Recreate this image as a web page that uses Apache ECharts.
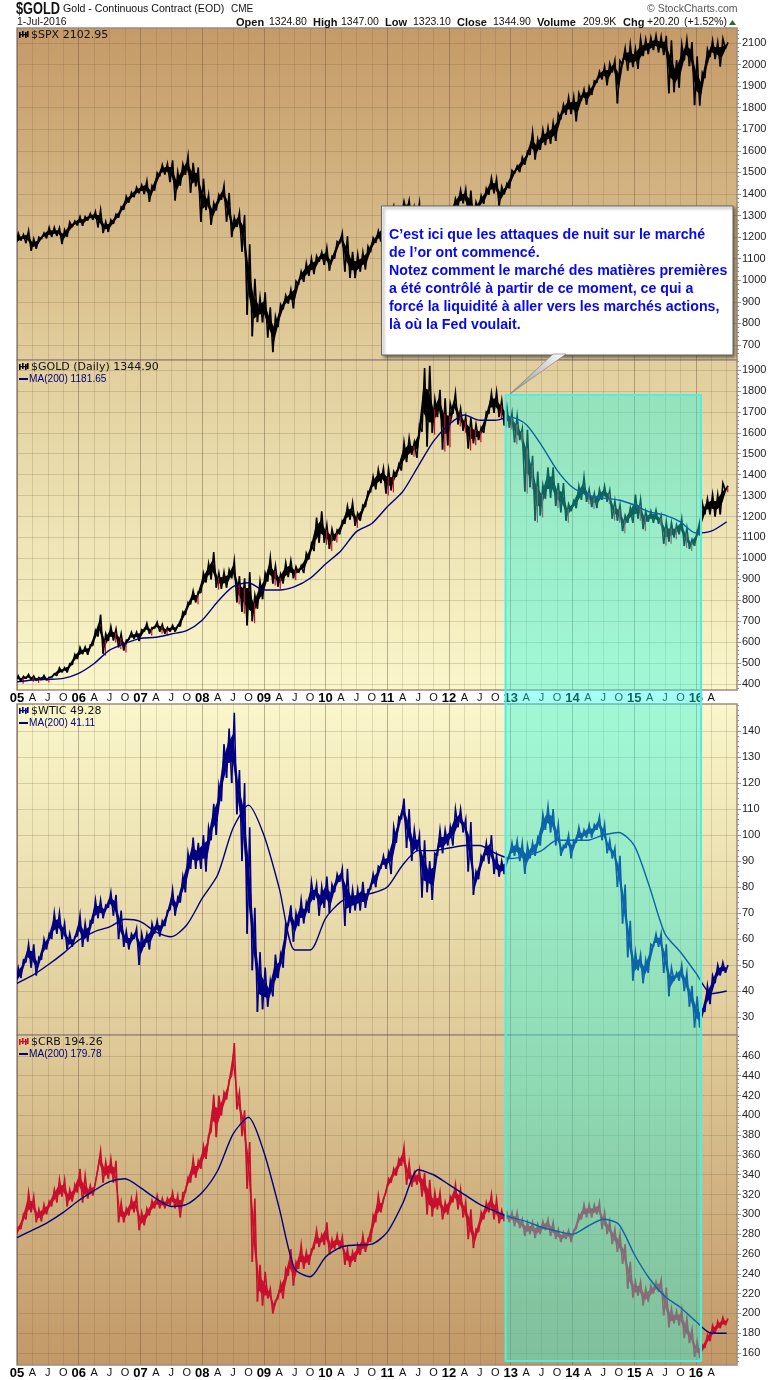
<!DOCTYPE html>
<html>
<head>
<meta charset="utf-8">
<style>html,body{margin:0;padding:0;background:#fff}#main{width:780px;height:1380px}</style>
<script src="https://cdn.jsdelivr.net/npm/echarts@6/dist/echarts.min.js"></script>
</head>
<body>
<div id="main"></div>
<script>
// monthly low / high, Jan 2005 - Jul 2016
var spxLow = [
    1163,1184,1172,1137,1146,1191,1194,1201,1205,1168,1202,1246,
    1254,1253,1277,1280,1245,1219,1224,1261,1290,1327,1360,1385,
    1403,1399,1364,1416,1482,1490,1455,1370,1439,1489,1406,1435,
    1270,1325,1257,1324,1373,1272,1200,1247,1133,840,741,806,
    805,735,667,783,865,892,870,979,992,1020,1029,1086,
    1071,1045,1100,1170,1040,1011,1010,1040,1050,1130,1173,1180,
    1257,1300,1249,1300,1311,1258,1282,1101,1120,1075,1158,1202,
    1259,1310,1340,1357,1291,1267,1325,1354,1396,1403,1343,1398,
    1426,1495,1501,1536,1581,1560,1604,1627,1633,1646,1746,1767,
    1770,1737,1834,1814,1859,1915,1931,1904,1964,1820,2001,1972,
    1988,1980,2039,2048,2067,2056,2044,1867,1872,1893,2019,1993,
    1812,1810,1937,2034,2025,1991,2074];
var spxHigh = [
    1217,1212,1229,1192,1200,1219,1245,1245,1243,1234,1270,1275,
    1295,1295,1310,1318,1326,1272,1280,1306,1340,1389,1407,1431,
    1441,1461,1438,1498,1535,1540,1556,1503,1538,1576,1545,1523,
    1471,1396,1359,1397,1440,1405,1292,1313,1303,1167,1007,920,
    944,875,832,888,930,956,996,1040,1080,1101,1113,1130,
    1150,1112,1180,1219,1205,1132,1120,1130,1157,1196,1228,1262,
    1303,1344,1332,1366,1370,1340,1357,1307,1220,1293,1292,1270,
    1333,1378,1419,1422,1416,1363,1392,1426,1475,1470,1434,1448,
    1509,1530,1570,1597,1687,1654,1698,1709,1730,1772,1814,1849,
    1850,1867,1884,1897,1924,1968,1991,2005,2019,2018,2075,2093,
    2072,2120,2117,2125,2135,2129,2133,2113,2021,2094,2116,2104,
    2038,1963,2072,2111,2103,2120,2103];

var goldLow = [
    418,411,425,420,415,418,417,431,439,456,455,491,
    519,542,540,583,627,545,605,608,575,560,610,615,
    605,650,640,665,650,640,650,650,675,730,780,790,
    835,885,900,860,855,860,905,790,745,680,700,760,
    805,890,880,865,880,910,905,930,930,995,1035,1075,
    1075,1045,1085,1115,1165,1185,1155,1180,1245,1315,1330,1360,
    1310,1325,1390,1420,1460,1495,1480,1605,1535,1600,1675,1520,
    1540,1690,1640,1610,1525,1550,1565,1600,1690,1695,1675,1635,
    1625,1555,1565,1320,1340,1180,1205,1285,1290,1250,1220,1180,
    1225,1240,1280,1270,1245,1240,1280,1270,1190,1180,1130,1170,
    1170,1190,1140,1175,1170,1165,1070,1080,1100,1115,1060,1045,
    1060,1110,1210,1210,1200,1210,1325];
var goldHigh = [
    439,437,446,438,431,441,432,449,478,478,497,541,
    575,577,586,655,732,640,675,662,640,610,648,648,
    660,690,670,695,685,670,680,680,745,790,845,840,
    930,975,1030,930,935,945,990,915,905,935,825,890,
    930,1005,965,925,980,990,960,965,1025,1070,1195,1225,
    1160,1140,1135,1180,1250,1265,1215,1255,1320,1390,1425,1430,
    1425,1415,1450,1555,1575,1555,1635,1910,1920,1760,1805,1765,
    1740,1790,1715,1675,1670,1640,1625,1700,1790,1795,1755,1725,
    1695,1680,1620,1615,1490,1415,1350,1435,1435,1360,1360,1260,
    1275,1345,1390,1330,1310,1330,1345,1325,1275,1255,1205,1240,
    1305,1280,1225,1225,1230,1205,1175,1170,1160,1190,1145,1090,
    1130,1265,1285,1305,1305,1360,1347];
var goldMa = [
    410,419,422,427,451,498,562,594,618,623,639,655,
    705,793,865,884,849,849,865,905,973,1037,1128,1167,
    1247,1319,1440,1560,1640,1685,1660,1660,1675,1640,1540,1422,
    1340,1303,1288,1279,1255,1222,1207,1174,1121,1130,1175];

var wticLow = [
    42,45,51,49,46,52,56,60,62,60,56,57,
    61,57,59,66,68,68,72,69,60,57,56,60,
    50,57,56,62,61,65,71,69,74,78,87,87,
    87,86,98,100,113,122,120,108,90,62,48,32,
    33,34,38,45,49,65,59,65,66,70,75,69,
    72,70,78,82,65,70,71,71,72,79,80,87,
    87,85,97,106,95,90,94,76,78,75,92,93,
    96,96,103,101,86,77,83,90,89,85,84,85,
    91,92,90,85,91,92,96,102,101,96,92,95,
    91,97,98,99,99,102,98,93,91,80,66,53,
    44,48,43,47,57,57,47,38,44,44,40,34,
    26,26,32,35,43,46,47];
var wticHigh = [
    49,52,58,58,53,60,62,70,70,66,62,61,
    69,66,67,75,75,73,78,77,71,63,62,64,
    62,62,66,67,67,71,79,76,84,93,99,97,
    100,103,112,119,135,141,147,125,120,103,72,55,
    49,44,54,54,66,73,70,75,74,82,81,80,
    84,81,85,87,87,79,79,82,79,85,88,92,
    93,103,107,114,110,102,100,98,90,93,102,102,
    103,110,110,106,105,86,92,97,100,92,90,91,
    97,98,97,96,97,99,108,111,110,104,96,100,
    98,103,102,104,104,107,104,98,95,92,81,67,
    55,54,52,58,62,62,58,49,47,50,47,42,
    38,33,42,46,50,51,50];
var wticMa = [
    43,46,50,54.5,59.6,62.8,64.7,67.6,66.7,62.8,60.9,65.4,
    75.6,84.6,102.6,111.5,100,79.5,55.8,55.8,68,74.4,76.7,77.6,
    80,88.5,94,94,95,96,96,93,91,92,94,98,
    98,98,100,101,96,80,62,55,47,39,40];

var crbLow = [
    277,285,295,302,292,293,300,308,312,318,308,313,
    322,312,316,319,346,332,336,332,292,292,299,302,
    284,289,299,306,306,306,309,306,297,322,332,337,
    346,356,383,378,400,416,440,406,379,326,252,212,
    208,215,200,215,215,238,228,245,245,249,265,267,
    269,259,265,265,249,247,252,259,262,272,292,302,
    322,332,339,349,330,328,330,318,300,298,305,295,
    300,312,305,297,275,266,282,295,302,295,291,293,
    292,288,286,278,280,276,280,284,278,275,272,275,
    272,285,295,297,297,300,285,280,270,262,250,225,
    216,218,208,212,220,222,198,186,190,188,175,170,
    156,155,165,172,180,185,188];
var crbHigh = [
    287,300,322,318,305,310,313,325,335,335,325,330,
    346,339,329,332,364,353,356,354,312,306,316,319,
    302,306,314,319,316,316,322,319,322,337,356,354,
    369,380,421,420,423,436,473,423,405,373,316,249,
    242,225,213,230,245,265,252,269,262,265,284,279,
    292,275,279,277,265,262,269,279,275,299,319,316,
    336,346,356,368,352,342,345,342,335,322,322,312,
    318,330,325,312,305,285,302,312,320,315,304,302,
    302,302,295,292,292,290,293,295,292,285,282,284,
    284,300,310,310,310,312,302,293,285,280,270,252,
    232,232,225,228,232,234,226,205,202,204,195,184,
    172,168,178,188,192,196,195];
var crbMa = [
    276.5,284,292,302,314,324,333,336,327,316,308,310,
    322,344,381,398,363,306,245,237,257,267,269,270,
    282,311,345,340,330,320,310,303,297,293,287,283,
    280,288,295,290,260,235,217,206,192,180,180];

// y axis labels of each panel
var spxTicks = [700,800,900,1000,1100,1200,1300,1400,1500,1600,1700,1800,1900,2000,2100];
var goldTicks = [400,500,600,700,800,900,1000,1100,1200,1300,1400,1500,1600,1700,1800,1900];
var wticTicks = [30,40,50,60,70,80,90,100,110,120,130,140];
var crbTicks = [160,180,200,220,240,260,280,300,320,340,360,380,400,420,440,460];

// months along the x axis, Jan 2005 to Sep 2016
var months = [];
for (var y = 2005; y <= 2016; y++) {
    for (var m = 1; m <= 12; m++) {
        if (y === 2016 && m > 9) break;
        months.push(y + '-' + (m < 10 ? '0' + m : m));
    }
}

// the green zone
var zoneStart = '2012-12', zoneEnd = '2016-02', zoneTop = 1780, zoneBottom = 152;

var noteLines = [
    'C’est ici que les attaques de nuit sur le marché',
    'de l’or ont commencé.',
    'Notez comment le marché des matières premières',
    'a été contrôlé à partir de ce moment, ce qui a',
    'forcé la liquidité à aller vers les marchés actions,',
    'là où la Fed voulait.'
];

var headerItems = [
    [236, 'Open', true], [269, '1324.80'], [313, 'High', true], [341, '1347.00'],
    [385, 'Low', true], [413, '1323.10'], [457, 'Close', true], [493, '1344.90'],
    [537, 'Volume', true], [583, '209.9K'], [623, 'Chg', true], [647, '+20.20'], [684, '(+1.52%)']
];

var panels = [
    {top: 28, bottom: 360, min: 630.5, max: 2169.5, ticks: spxTicks, minorStep: 20, low: spxLow, high: spxHigh, color: '#000000',
        from: '#C49A68', to: '#E1CE9C', label: '$SPX 2102.95'},
    {top: 360, bottom: 690, min: 371.3, max: 1947.8, ticks: goldTicks, minorStep: 20, low: goldLow, high: goldHigh, color: '#000000', flecks: '#C8102E',
        ma: goldMa, from: '#E1CE9C', to: '#FAF7CB', label: '$GOLD (Daily) 1344.90', maLabel: 'MA(200) 1181.65'},
    {top: 704, bottom: 1035, min: 23.1, max: 150.4, ticks: wticTicks, minorStep: 2, low: wticLow, high: wticHigh, color: '#000080',
        ma: wticMa, from: '#FAF7CB', to: '#DFCB99', label: '$WTIC 49.28', maLabel: 'MA(200) 41.11'},
    {top: 1035, bottom: 1366, min: 147.9, max: 481.1, ticks: crbTicks, minorStep: 4, low: crbLow, high: crbHigh, color: '#C8102E',
        ma: crbMa, from: '#DFCB99', to: '#C29868', label: '$CRB 194.26', maLabel: 'MA(200) 179.78'}
];

var chart = echarts.init(document.getElementById('main'));
var font = '"Liberation Sans", Arial, sans-serif';
var grids = [], xAxes = [], yAxes = [], series = [], graphics = [];

function isQuarter(i) { return i % 3 === 0; }

// each month: a solid core towards the next month, with a jagged stroke over it
function swingRenderer(p) {
    return function (params, api) {
        var i = api.value(0);
        var lo = api.coord([i, p.low[i]]);
        var hi = api.coord([i, p.high[i]]);
        var pts = [[lo[0] - 1.3, lo[1]], [hi[0] + 1.3, hi[1]]];
        var kids = [];
        if (i + 1 < p.low.length) {
            var nLo = api.coord([i + 1, p.low[i + 1]]);
            var nHi = api.coord([i + 1, p.high[i + 1]]);
            pts.push([nLo[0] - 1.3, nLo[1]]);
            var inset = (lo[1] - hi[1]) * 0.3, nInset = (nLo[1] - nHi[1]) * 0.3;
            kids.push({
                type: 'polygon',
                shape: {points: [[hi[0], hi[1] + inset], [nHi[0], nHi[1] + nInset], [nLo[0], nLo[1] - nInset], [lo[0], lo[1] - inset]]},
                style: {fill: p.color}
            });
        }
        kids.push({type: 'polyline', shape: {points: pts}, style: {stroke: p.color, fill: null, lineWidth: 1.6}});
        if (p.flecks && i > 0 && p.high[i] < p.high[i - 1]) {
            kids.push({
                type: 'line',
                shape: {x1: lo[0] + 1, y1: hi[1] + (lo[1] - hi[1]) * 0.3, x2: lo[0] + 1, y2: lo[1] + 2},
                style: {stroke: p.flecks, lineWidth: 1.2}
            });
        }
        return {type: 'group', children: kids};
    };
}

panels.forEach(function (p, k) {
    grids.push({
        left: 17, right: 43, top: p.top, height: p.bottom - p.top, show: true,
        backgroundColor: new echarts.graphic.LinearGradient(0, 0, 0, 1, [{offset: 0, color: p.from}, {offset: 1, color: p.to}]),
        borderColor: '#A08C80', borderWidth: 1.5
    });
    xAxes.push({
        type: 'category', gridIndex: k, data: months, boundaryGap: false,
        axisLine: {show: false}, axisTick: {show: false},
        axisLabel: {
            show: k === 1 || k === 3, margin: 2, interval: function (i) { return isQuarter(i); },
            hideOverlap: false, showMinLabel: true, showMaxLabel: false,
            fontFamily: font, fontSize: 11, color: '#111',
            formatter: function (v) {
                var mm = v.slice(5);
                if (mm === '01') return '{y|' + v.slice(2, 4) + '}';
                return {'04': 'A', '07': 'J', '10': 'O'}[mm] || '';
            },
            rich: {y: {fontFamily: font, fontWeight: 'bold', fontSize: 13, color: '#000'}}
        },
        splitLine: {
            show: true, interval: function (i) { return isQuarter(i); },
            lineStyle: {color: ['rgba(110,85,65,0.44)', 'rgba(110,85,65,0.19)', 'rgba(110,85,65,0.19)', 'rgba(110,85,65,0.19)'], width: 1}
        }
    });
    yAxes.push({
        type: 'value', gridIndex: k, position: 'right', min: p.min, max: p.max,
        axisLine: {show: false},
        axisTick: {show: true, length: 4, customValues: p.ticks, lineStyle: {color: '#A08C80'}},
        axisLabel: {
            customValues: p.ticks, margin: 5, fontFamily: font, fontSize: 11, color: '#222',
            showMinLabel: true, showMaxLabel: true, formatter: function (v) { return String(v); }
        },
        splitLine: {show: true, lineStyle: {color: 'rgba(110,85,65,0.22)', width: 1}}
    });
    var minor = [];
    for (var v = p.ticks[0] - 2 * p.minorStep; v < p.max; v += p.minorStep) {
        if (v > p.min) minor.push(v);
    }
    yAxes.push({
        type: 'value', gridIndex: k, position: 'right', min: p.min, max: p.max,
        axisLine: {show: false}, axisLabel: {show: false}, splitLine: {show: false},
        axisTick: {show: true, length: 2, customValues: minor, lineStyle: {color: '#A08C80'}}
    });

    series.push({
        type: 'custom', xAxisIndex: k, yAxisIndex: k * 2, renderItem: swingRenderer(p), clip: true,
        encode: {x: 0, y: [1, 2]}, silent: true,
        data: p.low.map(function (lo, i) { return [i, lo, p.high[i]]; }),
        z: 3
    });
    if (p.ma) {
        series.push({
            type: 'line', xAxisIndex: k, yAxisIndex: k * 2, showSymbol: false, smooth: 0.25, silent: true,
            lineStyle: {color: '#00007F', width: 1.4}, z: 4,
            data: p.ma.map(function (val, q) { return [q * 3, val]; })
        });
    }

    // little bar icon and the panel's labels
    var iconColor = p.color;
    [[19, 1], [22, 0], [25, 1], [27, 0]].forEach(function (b) {
        graphics.push({type: 'rect', z: 30, shape: {x: b[0], y: p.top + 3 + b[1], width: 1.6, height: 6}, style: {fill: iconColor}});
    });
    graphics.push({type: 'rect', z: 30, shape: {x: 19, y: p.top + 6, width: 9, height: 1.2}, style: {fill: iconColor}});
    graphics.push({type: 'text', z: 30, x: 31, y: p.top + 2, style: {text: p.label, fontFamily: '"DejaVu Sans"', fontSize: 11, fill: '#111'}});
    if (p.maLabel) {
        graphics.push({type: 'rect', z: 30, shape: {x: 19, y: p.top + 18, width: 9, height: 2}, style: {fill: '#00007F'}});
        graphics.push({type: 'text', z: 30, x: 29, y: p.top + 13, scaleX: 0.88, style: {text: p.maLabel, fontFamily: font, fontSize: 11.5, fill: '#00007F'}});
    }
});

// page header
graphics.push({type: 'text', x: 16, y: 2, scaleX: 0.8, style: {text: '$GOLD', fontFamily: font, fontWeight: 'bold', fontSize: 16, fill: '#111'}});
graphics.push({type: 'text', x: 63, y: 4, style: {text: 'Gold - Continuous Contract (EOD)', fontFamily: font, fontSize: 10.6, fill: '#111'}});
graphics.push({type: 'text', x: 231, y: 4, style: {text: 'CME', fontFamily: font, fontSize: 10, fill: '#111'}});
graphics.push({type: 'text', x: 17, y: 17, style: {text: '1-Jul-2016', fontFamily: font, fontSize: 10.5, fill: '#111'}});
graphics.push({type: 'text', x: 647, y: 4, style: {text: '© StockCharts.com', fontFamily: font, fontSize: 10.5, fill: '#555'}});
headerItems.forEach(function (h) {
    graphics.push({type: 'text', x: h[0], y: 17, style: {text: h[1], fontFamily: font, fontSize: h[2] ? 11 : 10.5, fontWeight: h[2] ? 'bold' : 'normal', fill: '#111'}});
});
graphics.push({type: 'polygon', shape: {points: [[729, 25], [736, 25], [732.5, 20]]}, style: {fill: '#1E6B2E'}});

chart.setOption({
    animation: false,
    backgroundColor: '#fff',
    grid: grids, xAxis: xAxes, yAxis: yAxes, series: series,
    graphic: graphics
});

// zone and call-out sit on top, placed from the axes
var zx1 = chart.convertToPixel({xAxisIndex: 1}, zoneStart);
var zx2 = chart.convertToPixel({xAxisIndex: 1}, zoneEnd);
var zy1 = chart.convertToPixel({yAxisIndex: 2}, zoneTop);
var zy2 = chart.convertToPixel({yAxisIndex: 6}, zoneBottom);

graphics.push({
    type: 'rect', z: 10,
    shape: {x: zx1, y: zy1, width: zx2 - zx1, height: zy2 - zy1},
    style: {fill: 'rgba(30,250,230,0.4)', stroke: '#4FEFE0', lineWidth: 2}
});
graphics.push({
    type: 'polygon', z: 21,
    shape: {points: [[553, 354], [566, 354], [510, 394]]},
    style: {
        fill: new echarts.graphic.LinearGradient(1, 0, 0, 1, [{offset: 0, color: '#ffffff'}, {offset: 1, color: '#8c8c8c'}]),
        stroke: '#777', lineWidth: 0.6
    }
});
graphics.push({
    type: 'rect', z: 20,
    shape: {x: 381.5, y: 206, width: 351.5, height: 149},
    style: {fill: '#fff', stroke: '#666', lineWidth: 1, shadowBlur: 3, shadowOffsetX: 2, shadowOffsetY: 2, shadowColor: 'rgba(0,0,0,0.5)'}
});
graphics.push({
    type: 'text', z: 22, x: 389, y: 226,
    style: {text: noteLines.join('\n'), fontFamily: font, fontWeight: 'bold', fontSize: 14.2, lineHeight: 18, fill: '#0808F0'}
});
chart.setOption({graphic: graphics});
</script>
</body>
</html>
